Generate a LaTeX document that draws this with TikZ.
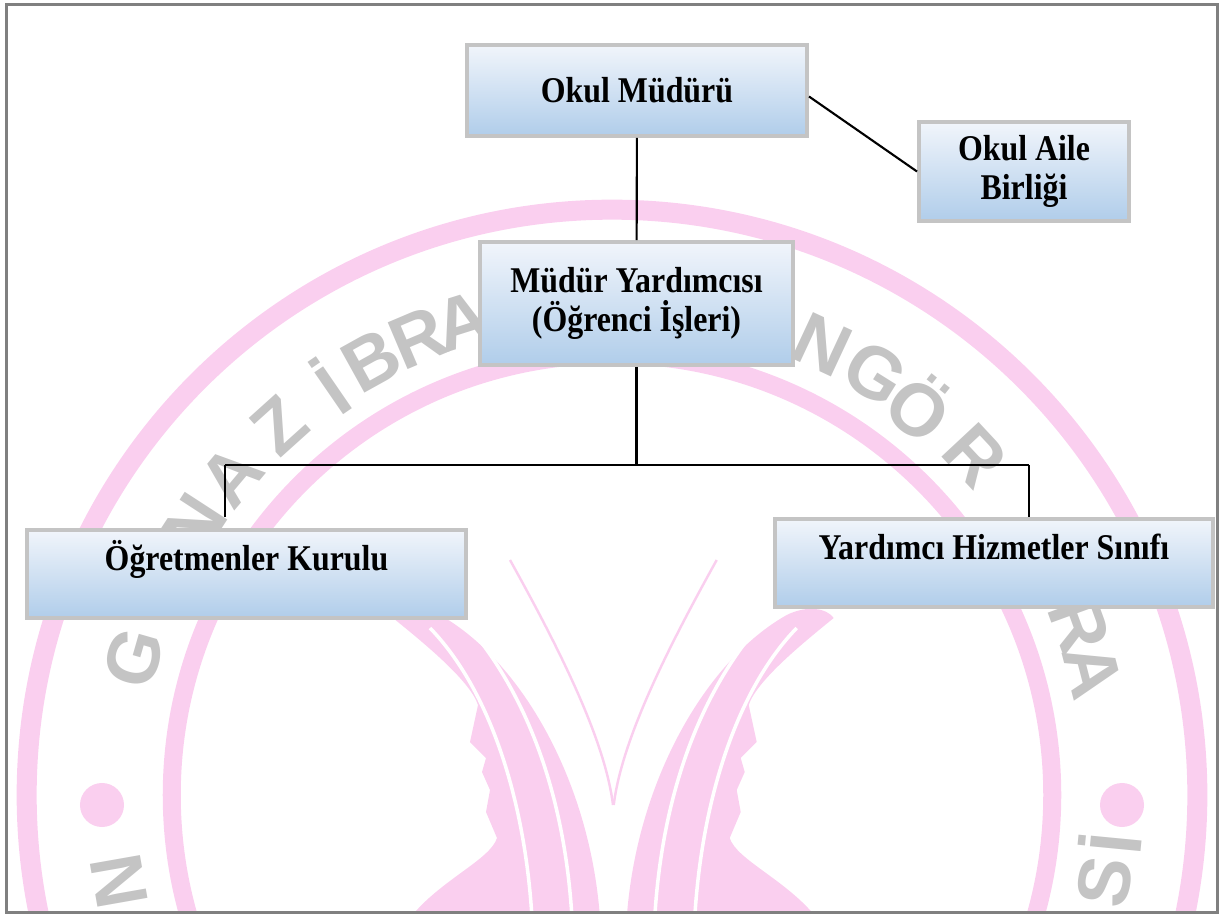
\documentclass[tikz,border=0pt]{standalone}
\usepackage{fontspec}
\setmainfont{Liberation Serif}[FakeStretch=0.88]
\newfontfamily\wmfont{Liberation Sans}
\definecolor{boxtop}{RGB}{241,245,251}
\definecolor{boxbot}{RGB}{176,205,234}
\definecolor{boxline}{RGB}{196,196,196}
\definecolor{wmpink}{RGB}{250,207,239}
\definecolor{wmgray}{RGB}{196,196,196}
\tikzset{
  orgbox/.style={draw=boxline, line width=1.1pt, top color=boxtop, bottom color=boxbot,
    font=\bfseries\fontsize{10.3}{11}\selectfont, align=center, inner sep=0pt},
  link/.style={line width=0.6pt},
  wmletter/.style={text=wmgray, font=\wmfont\bfseries\fontsize{21}{21}\selectfont, inner sep=0pt}
}

\begin{document}
\begin{tikzpicture}[x=0.01cm, y=-0.01cm]
\useasboundingbox (0,0) rectangle (1221,918);

\begin{scope}
\clip (6.5,4.5) rectangle (1217.5,912.5);
\draw [wmpink, line width=0.2cm] (612,795) circle [radius=5.85cm];
\draw [wmpink, line width=0.18cm] (612,795) circle [radius=4.40cm];
\fill [wmpink] (1122,805) circle [radius=0.22cm];
\fill [wmpink] (102,805) circle [radius=0.22cm];
\foreach \side in {0,1} {
  \begin{scope}[xshift=\side*12.26cm, xscale=1-2*\side]
  \fill [wmpink] (393,618) .. controls (420,640) and (470,680) .. (478,705) -- (470,742)
    -- (486,758) -- (482,772) -- (490,790) -- (486,812) -- (497,838)
    .. controls (490,860) and (440,880) .. (410,918) -- (600,918)
    .. controls (590,780) and (520,660) .. (440,615)
    .. controls (420,605) and (400,608) .. cycle;
  \draw [white, line width=1pt] (430,628) .. controls (490,690) and (525,800) .. (532,918);
  \draw [white, line width=1pt] (470,628) .. controls (530,700) and (565,800) .. (572,918);
  \draw [wmpink, line width=0.7pt] (510,560) .. controls (560,650) and (605,740) .. (613,805);
  \end{scope}
}
\foreach \a/\l in {164/G,147/N,140/A,132/Z,124.5/İ,119/B,113/R,107.5/A,65/N,58/G,51.5/Ö,43/R,20/R,14.5/A} {
  \node [wmletter, rotate=\a-90] at ({612+497*cos(\a)},{795-497*sin(\a)}) {\l};
}
\foreach \a/\l in {190/N,-5.5/İ,-10/S} {
  \node [wmletter, rotate=\a+90] at ({612+500*cos(\a)},{795-500*sin(\a)}) {\l};
}
\end{scope}

\node [orgbox, minimum width=3.40cm, minimum height=0.91cm] (mudur) at (637,90.5) {Okul Müdürü};
\node [orgbox, minimum width=2.10cm, minimum height=0.99cm] (aile) at (1024,171.5) {Okul Aile\\Birliği};
\node [orgbox, minimum width=3.13cm, minimum height=1.23cm] (yard) at (636.5,303.5) {Müdür Yardımcısı\\(Öğrenci İşleri)};
\node [orgbox, minimum width=4.39cm, text height=11.4pt, text depth=13.6pt] (ogr) at (246.5,574) {Öğretmenler Kurulu};
\node [orgbox, minimum width=4.38cm, text height=11.4pt, text depth=13.6pt] (hiz) at (994,563) {Yardımcı Hizmetler Sınıfı};

\coordinate (busl) at (225,465);
\coordinate (busr) at (1029,465);
\draw [link] (mudur) -- (yard);
\draw [link] (mudur.-2) -- (aile.west);
\draw [link] (yard.south) -- (yard.south |- busl);
\draw [link] (busl) -- (busr);
\draw [link] (busl) -- (busl |- hiz.north);
\draw [link] (busr) -- (busr |- hiz.north);

\draw [gray, line width=0.85pt] (6.5,4.5) rectangle (1217.5,912.5);
\end{tikzpicture}
\end{document}
